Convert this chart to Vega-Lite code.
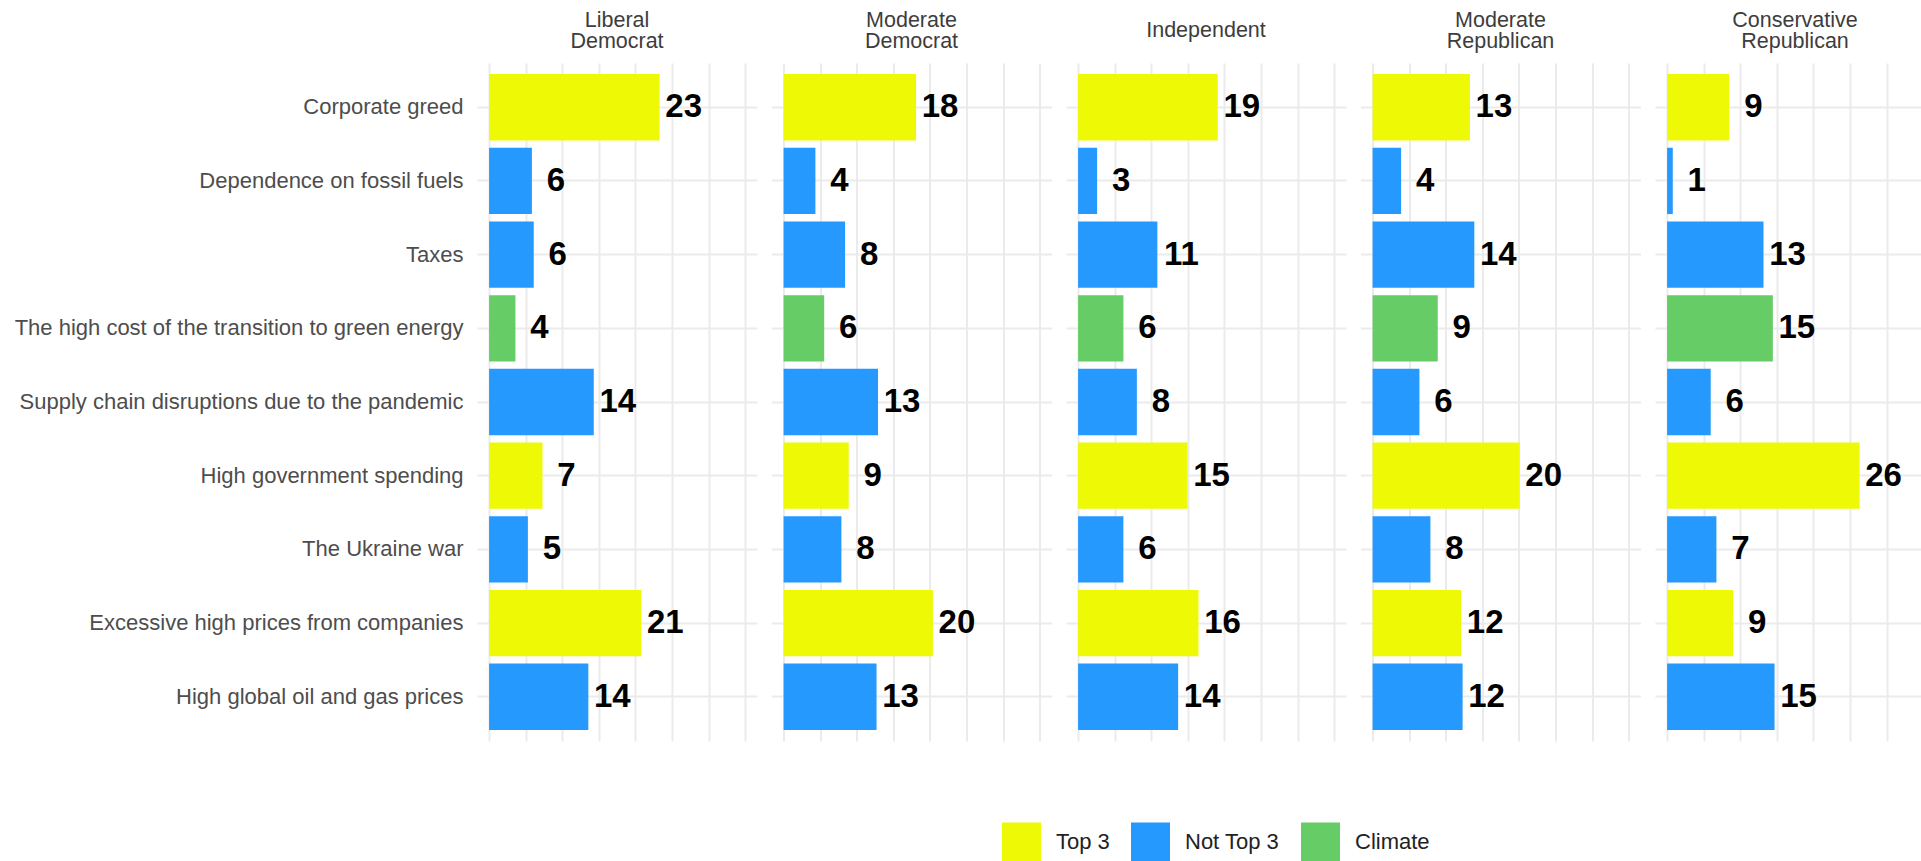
{
  "$schema": "https://vega.github.io/schema/vega-lite/v6.json",
  "background": "white",
  "padding": {"left": 14, "top": 9, "right": 0, "bottom": 0},
  "data": {"values": [
    {"party": "Liberal Democrat", "reason": "Corporate greed", "pct": 23.3, "label": 23, "group": "Top 3"},
    {"party": "Liberal Democrat", "reason": "Dependence on fossil fuels", "pct": 5.85, "label": 6, "group": "Not Top 3"},
    {"party": "Liberal Democrat", "reason": "Taxes", "pct": 6.1, "label": 6, "group": "Not Top 3"},
    {"party": "Liberal Democrat", "reason": "The high cost of the transition to green energy", "pct": 3.6, "label": 4, "group": "Climate"},
    {"party": "Liberal Democrat", "reason": "Supply chain disruptions due to the pandemic", "pct": 14.3, "label": 14, "group": "Not Top 3"},
    {"party": "Liberal Democrat", "reason": "High government spending", "pct": 7.3, "label": 7, "group": "Top 3"},
    {"party": "Liberal Democrat", "reason": "The Ukraine war", "pct": 5.3, "label": 5, "group": "Not Top 3"},
    {"party": "Liberal Democrat", "reason": "Excessive high prices from companies", "pct": 20.8, "label": 21, "group": "Top 3"},
    {"party": "Liberal Democrat", "reason": "High global oil and gas prices", "pct": 13.56, "label": 14, "group": "Not Top 3"},
    {"party": "Moderate Democrat", "reason": "Corporate greed", "pct": 18.1, "label": 18, "group": "Top 3"},
    {"party": "Moderate Democrat", "reason": "Dependence on fossil fuels", "pct": 4.35, "label": 4, "group": "Not Top 3"},
    {"party": "Moderate Democrat", "reason": "Taxes", "pct": 8.4, "label": 8, "group": "Not Top 3"},
    {"party": "Moderate Democrat", "reason": "The high cost of the transition to green energy", "pct": 5.55, "label": 6, "group": "Climate"},
    {"party": "Moderate Democrat", "reason": "Supply chain disruptions due to the pandemic", "pct": 12.9, "label": 13, "group": "Not Top 3"},
    {"party": "Moderate Democrat", "reason": "High government spending", "pct": 8.9, "label": 9, "group": "Top 3"},
    {"party": "Moderate Democrat", "reason": "The Ukraine war", "pct": 7.9, "label": 8, "group": "Not Top 3"},
    {"party": "Moderate Democrat", "reason": "Excessive high prices from companies", "pct": 20.4, "label": 20, "group": "Top 3"},
    {"party": "Moderate Democrat", "reason": "High global oil and gas prices", "pct": 12.7, "label": 13, "group": "Not Top 3"},
    {"party": "Independent", "reason": "Corporate greed", "pct": 19.08, "label": 19, "group": "Top 3"},
    {"party": "Independent", "reason": "Dependence on fossil fuels", "pct": 2.6, "label": 3, "group": "Not Top 3"},
    {"party": "Independent", "reason": "Taxes", "pct": 10.83, "label": 11, "group": "Not Top 3"},
    {"party": "Independent", "reason": "The high cost of the transition to green energy", "pct": 6.19, "label": 6, "group": "Climate"},
    {"party": "Independent", "reason": "Supply chain disruptions due to the pandemic", "pct": 8.03, "label": 8, "group": "Not Top 3"},
    {"party": "Independent", "reason": "High government spending", "pct": 14.95, "label": 15, "group": "Top 3"},
    {"party": "Independent", "reason": "The Ukraine war", "pct": 6.19, "label": 6, "group": "Not Top 3"},
    {"party": "Independent", "reason": "Excessive high prices from companies", "pct": 16.45, "label": 16, "group": "Top 3"},
    {"party": "Independent", "reason": "High global oil and gas prices", "pct": 13.67, "label": 14, "group": "Not Top 3"},
    {"party": "Moderate Republican", "reason": "Corporate greed", "pct": 13.3, "label": 13, "group": "Top 3"},
    {"party": "Moderate Republican", "reason": "Dependence on fossil fuels", "pct": 3.9, "label": 4, "group": "Not Top 3"},
    {"party": "Moderate Republican", "reason": "Taxes", "pct": 13.9, "label": 14, "group": "Not Top 3"},
    {"party": "Moderate Republican", "reason": "The high cost of the transition to green energy", "pct": 8.9, "label": 9, "group": "Climate"},
    {"party": "Moderate Republican", "reason": "Supply chain disruptions due to the pandemic", "pct": 6.4, "label": 6, "group": "Not Top 3"},
    {"party": "Moderate Republican", "reason": "High government spending", "pct": 20.1, "label": 20, "group": "Top 3"},
    {"party": "Moderate Republican", "reason": "The Ukraine war", "pct": 7.9, "label": 8, "group": "Not Top 3"},
    {"party": "Moderate Republican", "reason": "Excessive high prices from companies", "pct": 12.1, "label": 12, "group": "Top 3"},
    {"party": "Moderate Republican", "reason": "High global oil and gas prices", "pct": 12.3, "label": 12, "group": "Not Top 3"},
    {"party": "Conservative Republican", "reason": "Corporate greed", "pct": 8.5, "label": 9, "group": "Top 3"},
    {"party": "Conservative Republican", "reason": "Dependence on fossil fuels", "pct": 0.78, "label": 1, "group": "Not Top 3"},
    {"party": "Conservative Republican", "reason": "Taxes", "pct": 13.17, "label": 13, "group": "Not Top 3"},
    {"party": "Conservative Republican", "reason": "The high cost of the transition to green energy", "pct": 14.45, "label": 15, "group": "Climate"},
    {"party": "Conservative Republican", "reason": "Supply chain disruptions due to the pandemic", "pct": 5.96, "label": 6, "group": "Not Top 3"},
    {"party": "Conservative Republican", "reason": "High government spending", "pct": 26.3, "label": 26, "group": "Top 3"},
    {"party": "Conservative Republican", "reason": "The Ukraine war", "pct": 6.74, "label": 7, "group": "Not Top 3"},
    {"party": "Conservative Republican", "reason": "Excessive high prices from companies", "pct": 9.04, "label": 9, "group": "Top 3"},
    {"party": "Conservative Republican", "reason": "High global oil and gas prices", "pct": 14.68, "label": 15, "group": "Not Top 3"}
  ]},
  "facet": {
    "column": {
      "field": "party",
      "type": "nominal",
      "sort": ["Liberal Democrat", "Moderate Democrat", "Independent", "Moderate Republican", "Conservative Republican"],
      "title": null,
      "header": {
        "labelExpr": "indexof(datum.label, ' ') < 0 ? [datum.label, ''] : split(datum.label, ' ')",
        "labelFont": "Liberation Sans",
        "labelFontSize": 21.5,
        "labelColor": "#3d3d3d",
        "labelLineHeight": {"expr": "indexof(parent.party, ' ') < 0 ? 10.5 : 21"},
        "labelBaseline": "middle",
        "labelPadding": 0
      }
    }
  },
  "spacing": 14.5,
  "spec": {
    "width": 280,
    "height": 678,
    "encoding": {
      "y": {
        "field": "reason",
        "type": "nominal",
        "sort": ["Corporate greed", "Dependence on fossil fuels", "Taxes", "The high cost of the transition to green energy", "Supply chain disruptions due to the pandemic", "High government spending", "The Ukraine war", "Excessive high prices from companies", "High global oil and gas prices"],
        "scale": {"paddingInner": 0.1, "paddingOuter": 0.15},
        "axis": {
          "title": null,
          "labelFont": "Liberation Sans",
          "labelFontSize": 22,
          "labelColor": "#4d4d4d",
          "labelPadding": 14,
          "labelLimit": 0,
          "ticks": false,
          "domain": false,
          "grid": true,
          "bandPosition": 0.5,
          "gridColor": "#ebebeb",
          "gridWidth": 2
        }
      },
      "x": {
        "field": "pct",
        "type": "quantitative",
        "scale": {"domain": [-1.65, 36.6], "nice": false, "zero": false},
        "axis": {
          "title": null,
          "labels": false,
          "ticks": false,
          "domain": false,
          "grid": true,
          "values": [0, 5, 10, 15, 20, 25, 30, 35],
          "gridColor": "#ebebeb",
          "gridWidth": 2
        }
      }
    },
    "layer": [
      {
        "mark": {"type": "bar"},
        "encoding": {
          "x2": {"datum": 0},
          "color": {
            "field": "group",
            "type": "nominal",
            "scale": {"domain": ["Top 3", "Not Top 3", "Climate"], "range": ["#eefa05", "#2699ff", "#66cc66"]},
            "legend": {
              "title": null,
              "orient": "none",
              "legendX": 525,
              "legendY": 759.5,
              "direction": "horizontal",
              "symbolType": "square",
              "symbolSize": 1521,
              "symbolStrokeWidth": 0,
              "symbolOpacity": 1,
              "labelFont": "Liberation Sans",
              "labelFontSize": 22,
              "labelColor": "#222222",
              "labelOffset": 15,
              "columnPadding": 21
            }
          }
        }
      },
      {
        "mark": {"type": "text", "align": "center", "baseline": "middle", "dx": 24, "font": "Liberation Sans", "fontWeight": "bold", "fontSize": 33, "color": "#000000"},
        "encoding": {
          "text": {"field": "label", "type": "quantitative"}
        }
      }
    ]
  },
  "config": {
    "view": {"stroke": null},
    "font": "Liberation Sans"
  }
}
